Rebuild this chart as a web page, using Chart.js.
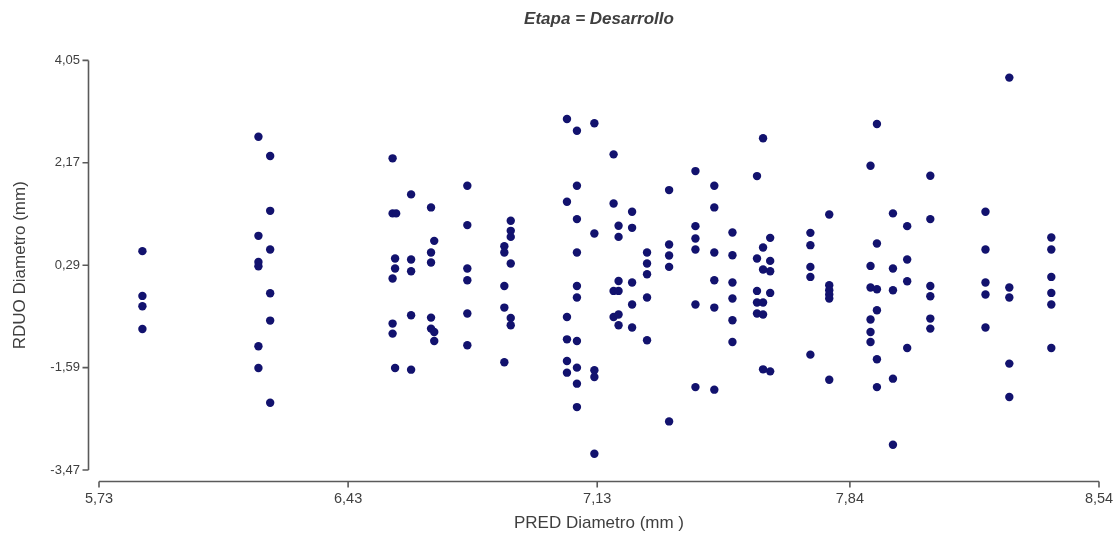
<!DOCTYPE html>
<html>
<head>
<meta charset="utf-8">
<script src="https://cdn.jsdelivr.net/npm/chart.js@4.4.1/dist/chart.umd.min.js"></script>
<style>
  html, body { margin: 0; padding: 0; background: #ffffff; }
  #wrap { width: 1118px; height: 540px; }
</style>
</head>
<body>
<div id="wrap"><canvas id="c" width="1118" height="540"></canvas></div>
<script>
// ---- Data ----
const chartTitle = 'Etapa = Desarrollo';
const xTitle = 'PRED Diametro (mm )';
const yTitle = 'RDUO Diametro (mm)';
const xTicks = [5.73, 6.43, 7.13, 7.84, 8.54];
const yTicks = [-3.47, -1.59, 0.29, 2.17, 4.05];

const predDiametro = [
  5.852, 5.852, 5.852, 5.852,
  6.178, 6.178, 6.178, 6.178, 6.178, 6.178,
  6.211, 6.211, 6.211, 6.211, 6.211, 6.211,
  6.555, 6.555, 6.565, 6.562, 6.562, 6.555, 6.555, 6.555, 6.562,
  6.607, 6.607, 6.607, 6.607, 6.607,
  6.663, 6.672, 6.663, 6.663, 6.663, 6.663, 6.672, 6.672,
  6.765, 6.765, 6.765, 6.765, 6.765, 6.765,
  6.887, 6.887, 6.887, 6.869, 6.869, 6.887, 6.869, 6.869, 6.887, 6.887, 6.869,
  7.045, 7.045, 7.045, 7.045, 7.045, 7.045,
  7.073, 7.073, 7.073, 7.073, 7.073, 7.073, 7.073, 7.073, 7.073, 7.073,
  7.122, 7.122, 7.122, 7.122, 7.122,
  7.176, 7.176, 7.190, 7.190, 7.190, 7.176, 7.190, 7.176, 7.190, 7.190,
  7.228, 7.228, 7.228, 7.228, 7.228,
  7.270, 7.270, 7.270, 7.270, 7.270,
  7.332, 7.332, 7.332, 7.332, 7.332,
  7.406, 7.406, 7.406, 7.406, 7.406, 7.406,
  7.459, 7.459, 7.459, 7.459, 7.459, 7.459,
  7.510, 7.510, 7.510, 7.510, 7.510, 7.510,
  7.596, 7.579, 7.616, 7.596, 7.579, 7.616, 7.596, 7.616, 7.579, 7.616, 7.579, 7.596, 7.579, 7.596, 7.596, 7.616,
  7.729, 7.729, 7.729, 7.729, 7.729,
  7.782, 7.782, 7.782, 7.782, 7.782, 7.782,
  7.916, 7.898, 7.916, 7.898, 7.898, 7.916, 7.916, 7.898, 7.898, 7.898, 7.916, 7.916,
  7.961, 7.961, 7.961, 7.961, 7.961,
  8.001, 8.001, 8.001, 8.001,
  8.066, 8.066, 8.066, 8.066, 8.066, 8.066,
  8.221, 8.221, 8.221, 8.221, 8.221,
  8.288, 8.288, 8.288, 8.288, 8.288,
  8.406, 8.406, 8.406, 8.406, 8.406, 8.406
];

const rduoDiametro = [
  0.548, -0.274, -0.464, -0.881,
  2.649, 0.829, 0.351, 0.272, -1.199, -1.598,
  2.294, 1.288, 0.579, -0.225, -0.727, -2.234,
  2.252, 1.241, 1.241, 0.413, 0.229, 0.046, -0.782, -0.966, -1.598,
  1.590, 0.395, 0.180, -0.629, -1.628,
  1.351, 0.737, 0.524, 0.340, -0.672, -0.874, -0.936, -1.102,
  1.748, 1.026, 0.229, 0.014, -0.598, -1.181,
  1.105, 0.921, 0.810, 0.639, 0.524, 0.321, -0.091, -0.488, -0.679, -0.813, -1.493,
  2.974, 1.454, -0.661, -1.071, -1.470, -1.683,
  2.759, 1.748, 1.136, 0.524, -0.091, -0.304, -1.102, -1.591, -1.885, -2.315,
  2.895, 0.873, -1.640, -1.764, -3.172,
  2.325, 1.424, 1.013, 0.810, 0.001, -0.182, -0.182, -0.661, -0.616, -0.813,
  1.270, 0.976, -0.028, -0.432, -0.855,
  0.524, 0.321, 0.125, -0.304, -1.089,
  1.669, 0.671, 0.468, 0.259, -2.578,
  2.018, 1.007, 0.781, 0.579, -0.432, -1.948,
  1.748, 1.351, 0.524, 0.014, -0.488, -1.995,
  0.891, 0.474, -0.028, -0.322, -0.721, -1.120,
  2.620, 1.926, 0.792, 0.616, 0.413, 0.369, 0.211, 0.180, -0.182, -0.219, -0.396, -0.396, -0.598, -0.616, -1.622, -1.659,
  0.884, 0.658, 0.259, 0.075, -1.352,
  1.222, -0.078, -0.170, -0.249, -0.322, -1.812,
  2.882, 2.116, 0.689, 0.277, -0.120, -0.151, -0.537, -0.708, -0.936, -1.120, -1.438, -1.948,
  1.241, 0.229, -0.170, -1.793, -3.007,
  1.007, 0.395, -0.004, -1.230,
  1.932, 1.136, -0.091, -0.280, -0.690, -0.874,
  1.270, 0.579, -0.028, -0.249, -0.855,
  3.734, -0.120, -0.304, -1.517, -2.131,
  0.799, 0.579, 0.075, -0.219, -0.432, -1.230
];

// ---- Build chart ----
const points = predDiametro.map((x, i) => ({ x: x, y: rduoDiametro[i] }));
const FONT = "'Liberation Sans', Arial, Helvetica, sans-serif";
const TEXT = '#3f3f3f';
const AXIS = '#5a5a5a';
const fmt = v => Number(v).toFixed(2).replace('.', ',');

const detachedAxes = {
  id: 'detachedAxes',
  afterDraw(chart) {
    const { ctx, chartArea, scales } = chart;
    const xs = scales.x, ys = scales.y;
    ctx.save();
    ctx.strokeStyle = AXIS;
    ctx.lineWidth = 1.6;
    // y axis line
    const yx = chartArea.left - 10.5;
    const yTop = ys.getPixelForValue(yTicks[yTicks.length - 1]);
    const yBot = ys.getPixelForValue(yTicks[0]);
    ctx.beginPath();
    ctx.moveTo(yx, yTop);
    ctx.lineTo(yx, yBot);
    yTicks.forEach(v => {
      const p = ys.getPixelForValue(v);
      ctx.moveTo(yx - 6, p);
      ctx.lineTo(yx, p);
    });
    ctx.stroke();
    // x axis line
    const xy = chartArea.bottom + 11.5;
    const xL = xs.getPixelForValue(xTicks[0]);
    const xR = xs.getPixelForValue(xTicks[xTicks.length - 1]);
    ctx.beginPath();
    ctx.moveTo(xL, xy);
    ctx.lineTo(xR, xy);
    xTicks.forEach(v => {
      const p = xs.getPixelForValue(v);
      ctx.moveTo(p, xy);
      ctx.lineTo(p, xy + 6);
    });
    ctx.stroke();
    ctx.restore();
  }
};

new Chart(document.getElementById('c'), {
  type: 'scatter',
  data: {
    datasets: [{
      label: 'RDUO',
      data: points,
      pointRadius: 4.2,
      pointHoverRadius: 4.2,
      pointBackgroundColor: '#12126e',
      pointBorderColor: '#12126e',
      pointBorderWidth: 0
    }]
  },
  options: {
    responsive: false,
    animation: false,
    devicePixelRatio: 1,
    layout: { padding: { left: 0, right: 19, top: 0, bottom: 0 } },
    plugins: {
      legend: { display: false },
      tooltip: { enabled: false },
      title: {
        display: true,
        text: chartTitle,
        fullSize: false,
        color: TEXT,
        font: { family: FONT, size: 17, style: 'italic', weight: 'bold' },
        padding: { top: 9, bottom: 31 }
      }
    },
    scales: {
      x: {
        type: 'linear',
        position: 'bottom',
        min: xTicks[0],
        max: xTicks[xTicks.length - 1],
        afterBuildTicks: s => { s.ticks = xTicks.map(v => ({ value: v })); },
        afterFit: s => { s.height = 70; s.paddingLeft = 0; s.paddingRight = 0; },
        grid: { display: false, drawTicks: false },
        border: { display: false },
        ticks: {
          color: TEXT,
          font: { family: FONT, size: 14.5 },
          padding: 20,
          maxRotation: 0,
          autoSkip: false,
          callback: v => fmt(v)
        },
        title: {
          display: true,
          text: xTitle,
          color: TEXT,
          font: { family: FONT, size: 17 },
          padding: { top: 0, bottom: 6 }
        }
      },
      y: {
        type: 'linear',
        min: yTicks[0],
        max: yTicks[yTicks.length - 1],
        afterBuildTicks: s => { s.ticks = yTicks.map(v => ({ value: v })); },
        afterFit: s => { s.width = 99; },
        grid: { display: false, drawTicks: false },
        border: { display: false },
        ticks: {
          color: TEXT,
          font: { family: FONT, size: 13 },
          padding: 19,
          autoSkip: false,
          callback: v => fmt(v)
        },
        title: {
          display: true,
          text: yTitle,
          color: TEXT,
          font: { family: FONT, size: 17 },
          padding: { top: 10, bottom: 0 }
        }
      }
    }
  },
  plugins: [detachedAxes]
});
</script>
</body>
</html>
